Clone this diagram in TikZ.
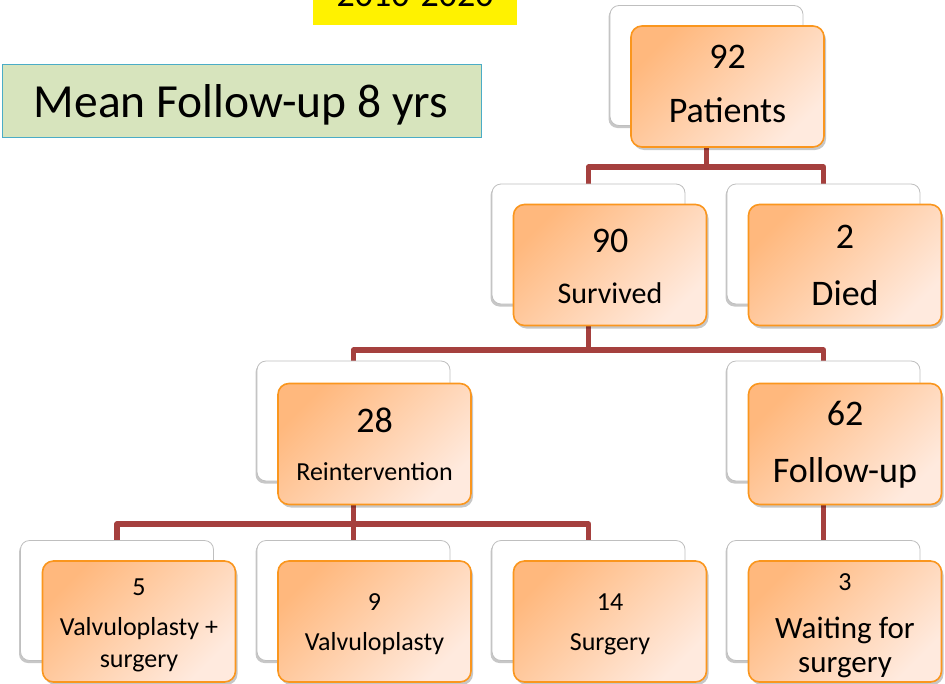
\documentclass[tikz,border=0pt]{standalone}
\usepackage{fontspec}
\setmainfont{Carlito}
\usetikzlibrary{shadows}
\definecolor{connc}{RGB}{165,64,62}
\definecolor{obord}{RGB}{250,150,30}
\definecolor{otop}{RGB}{255,184,125}
\definecolor{obot}{RGB}{255,234,222}
\definecolor{mfill}{RGB}{215,228,189}
\definecolor{mbord}{RGB}{75,172,198}
\pgfdeclarelayer{bg}
\pgfsetlayers{bg,main}
\tikzset{
  backbox/.style={draw=black!25, line width=0.8pt, fill=white, rounded corners=9pt,
    minimum width=193pt, minimum height=120pt, inner sep=0pt,
    drop shadow={shadow xshift=-1.5pt, shadow yshift=-2.5pt, opacity=0.22, fill=black}},
  frontbox/.style={draw=obord, line width=1.6pt, rounded corners=11pt,
    minimum width=193pt, minimum height=121pt, inner sep=0pt,
    top color=otop, bottom color=obot, shading angle=45,
    drop shadow={shadow xshift=2pt, shadow yshift=-3pt, opacity=0.22, fill=black}},
  connector/.style={draw=connc, line width=5.5pt, line join=round},
  txt/.style={anchor=base, inner sep=0pt, text=black},
  fA/.style={font=\fontsize{36}{40}\selectfont},
  fB/.style={font=\fontsize{30}{34}\selectfont},
  fC/.style={font=\fontsize{26}{30}\selectfont},
  fD/.style={font=\fontsize{31}{35}\selectfont},
}
\begin{document}
\begin{tikzpicture}[x=1pt,y=-1pt]
\useasboundingbox (0,0) rectangle (945,683);
\clip (0,0) rectangle (945,683);

% top labels
\node[fill=yellow, minimum width=204pt, minimum height=25pt, inner sep=0pt] (yr) at (415,12.5) {};
\node[txt, fA] (yt) at (415,6) {2010-2020};
\node[draw=mbord, fill=mfill, line width=1.5pt, minimum width=479pt, minimum height=73pt, inner sep=0pt] (mean) at (242,101) {};
\node[txt, font=\fontsize{47.5}{52}\selectfont] (meant) at (241,117) {Mean Follow-up 8 yrs};

% back boxes
\node[backbox] (patB) at (706.5,65.5) {};
\node[backbox] (surB) at (588.5,244) {};
\node[backbox] (dieB) at (823.5,244) {};
\node[backbox] (reiB) at (353.5,421) {};
\node[backbox] (folB) at (823.5,421) {};
\node[backbox] (b1B) at (117,600.5) {};
\node[backbox] (b2B) at (353.5,600.5) {};
\node[backbox] (b3B) at (588.5,600.5) {};
\node[backbox] (b4B) at (823.5,600.5) {};

% front boxes
\node[frontbox] (patF) at (727.5,86.5) {};
\node[frontbox] (surF) at (610,265) {};
\node[frontbox] (dieF) at (845,265) {};
\node[frontbox] (reiF) at (374.5,444) {};
\node[frontbox] (folF) at (845,444) {};
\node[frontbox] (b1F) at (139,621.5) {};
\node[frontbox] (b2F) at (374.5,621.5) {};
\node[frontbox] (b3F) at (610,621.5) {};
\node[frontbox] (b4F) at (845,621.5) {};

% connectors
\coordinate (j1) at (0,167);
\coordinate (j2) at (0,350);
\coordinate (j3) at (0,524);
\begin{pgfonlayer}{bg}
\draw[connector] (patB.center) |- (surB.center |- j1) -- (surB.center);
\draw[connector] (patB.center) |- (dieB.center |- j1) -- (dieB.center);
\draw[connector] (surB.center) |- (reiB.center |- j2) -- (reiB.center);
\draw[connector] (surB.center) |- (folB.center |- j2) -- (folB.center);
\draw[connector] (reiB.center) |- (b1B.center |- j3) -- (b1B.center);
\draw[connector] (reiB.center) -- (b2B.center);
\draw[connector] (reiB.center) |- (b3B.center |- j3) -- (b3B.center);
\draw[connector] (folB.center) -- (b4B.center);
\end{pgfonlayer}

% texts
\node[txt, fA] (patN) at (727.5,68) {92};
\node[txt, fA] (patT) at (727.5,122) {Patients};
\node[txt, fA] (surN) at (610,252) {90};
\node[txt, fB] (surT) at (610,303) {Survived};
\node[txt, fA] (dieN) at (845,248) {2};
\node[txt, fA] (dieT) at (845,305) {Died};
\node[txt, fA] (reiN) at (374.5,432) {28};
\node[txt, fC] (reiT) at (374.5,480) {Reintervention};
\node[txt, fA] (folN) at (845,425) {62};
\node[txt, fA] (folT) at (845,482) {Follow-up};
\node[txt, fC] (b1N) at (139,595) {5};
\node[txt, fC] (b1T) at (139,635) {Valvuloplasty +};
\node[txt, fC] (b1U) at (139,667) {surgery};
\node[txt, fC] (b2N) at (374.5,610) {9};
\node[txt, fC] (b2T) at (374.5,650) {Valvuloplasty};
\node[txt, fC] (b3N) at (610,610) {14};
\node[txt, fC] (b3T) at (610,650) {Surgery};
\node[txt, fC] (b4N) at (845,590) {3};
\node[txt, fD] (b4T) at (845,638) {Waiting for};
\node[txt, fD] (b4U) at (845,672) {surgery};
\end{tikzpicture}
\end{document}
